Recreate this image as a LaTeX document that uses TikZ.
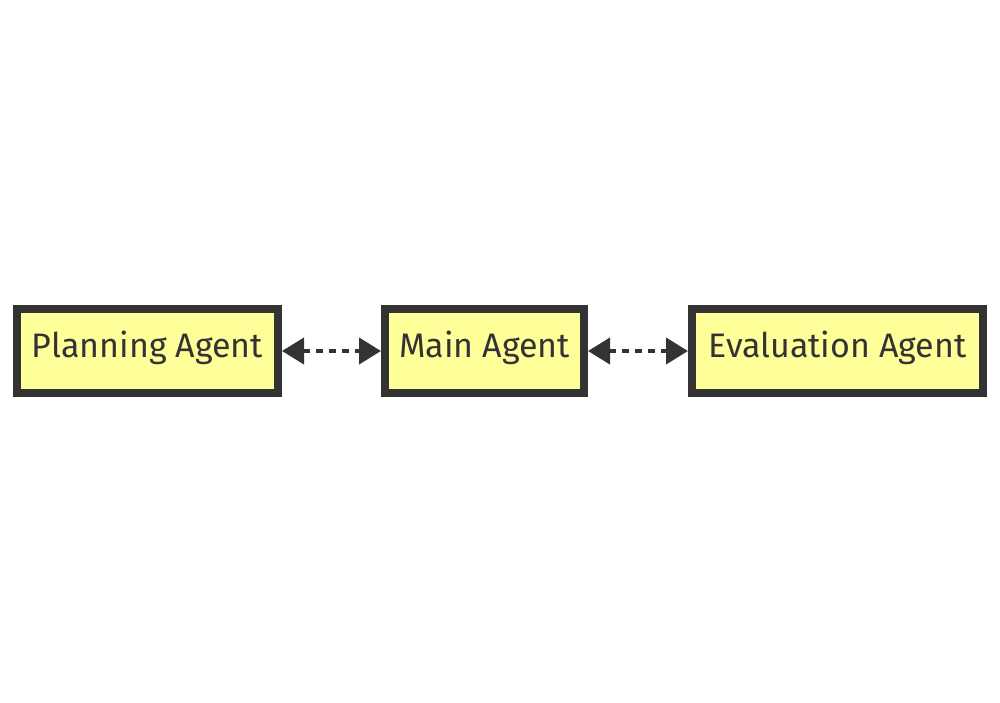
\documentclass[tikz,border=0pt]{standalone}
\usepackage{fontspec}
\setmainfont{Fira Sans}
\usetikzlibrary{arrows.meta}
\definecolor{agentfill}{HTML}{FFFF99}
\definecolor{agentline}{HTML}{333333}
\begin{document}
\begin{tikzpicture}[x=1pt,y=1pt,
    agent/.style={draw=agentline, line width=8pt, fill=agentfill, text=agentline, minimum height=84pt, inner sep=0pt, text height=24pt, text depth=12pt, font=\fontsize{34}{40}\selectfont},
    link/.style={agentline, line width=4pt, dash pattern=on 6.5pt off 6.5pt, {Triangle[length=22pt,width=26pt]}-{Triangle[length=22pt,width=26pt]}}]
    \useasboundingbox (0,0) rectangle (1000,-702);
    \node[agent, minimum width=261pt] (planning) at (147.5,-351) {Planning Agent};
    \node[agent, minimum width=199pt] (main) at (484.5,-351) {Main Agent};
    \node[agent, minimum width=291pt] (evaluation) at (837.5,-351) {Evaluation Agent};
    \draw[link] (planning) -- (main);
    \draw[link] (main) -- (evaluation);
  \end{tikzpicture}
\end{document}
